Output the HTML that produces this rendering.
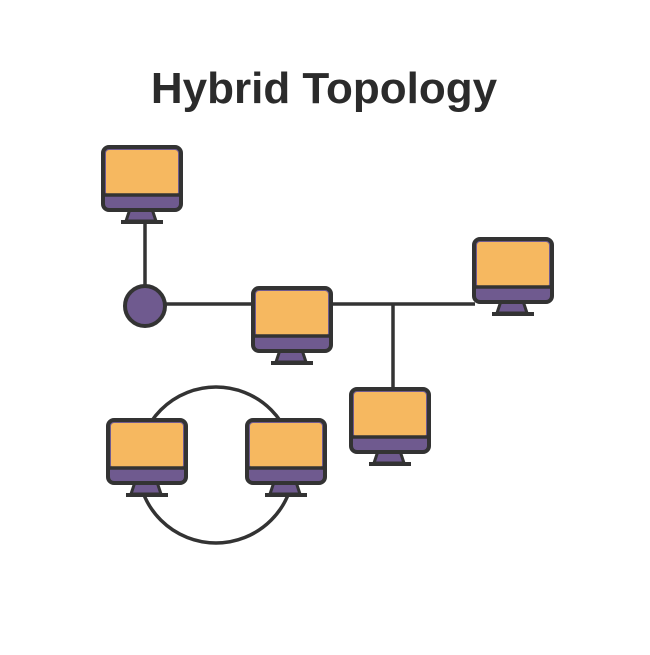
<!DOCTYPE html>
<html><head><style>
html,body{margin:0;padding:0;background:#fff;}
</style></head><body>
<svg width="650" height="650" viewBox="0 0 650 650" xmlns="http://www.w3.org/2000/svg">
<defs>
<g id="mon">
  <path d="M29,64 L51,64 L55,76 L25,76 Z" fill="#6F5A8F" stroke="#333" stroke-width="3" stroke-linejoin="round"/>
  <rect x="20" y="75" width="42" height="4" fill="#333"/>
  <rect x="2" y="2" width="78" height="63" rx="6" fill="#6F5A8F" stroke="#333" stroke-width="4"/>
  <rect x="5" y="5" width="72" height="45" rx="3" fill="#F6B860"/>
  <line x1="3" y1="50" x2="79" y2="50" stroke="#333" stroke-width="3.5"/>
</g>
</defs>
<text x="324" y="103" text-anchor="middle" font-family="Liberation Sans, sans-serif" font-weight="bold" font-size="44" fill="#2b2b2b">Hybrid Topology</text>
<g stroke="#333" stroke-width="3.5" fill="none">
  <line x1="145" y1="220" x2="145" y2="290"/>
  <line x1="160" y1="304" x2="475" y2="304"/>
  <line x1="393" y1="304" x2="393" y2="390"/>
  <circle cx="216" cy="465" r="78"/>
</g>
<circle cx="145" cy="306" r="20" fill="#6F5A8F" stroke="#333" stroke-width="4"/>
<use href="#mon" x="101" y="145"/>
<use href="#mon" x="251" y="286"/>
<use href="#mon" x="472" y="237"/>
<use href="#mon" x="349" y="387"/>
<use href="#mon" x="106" y="418"/>
<use href="#mon" x="245" y="418"/>
</svg>
</body></html>
